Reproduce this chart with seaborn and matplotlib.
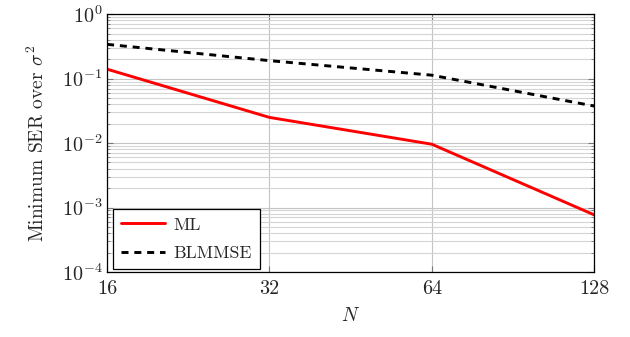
import matplotlib
matplotlib.use("Agg")
import matplotlib.pyplot as plt
import matplotlib.ticker as mticker
import numpy as np
import pandas as pd
import seaborn as sns

# values
n_values = [16, 32, 64, 128]
ser_ml = [0.14, 0.025, 0.0096, 0.00077]
ser_blmmse = [0.34, 0.19, 0.113, 0.0375]
method_names = ["ML", "BLMMSE"]

sns.set_style("ticks")
plt.rcParams["font.family"] = ["serif"]
plt.rcParams["font.serif"] = ["cmr10", "DejaVu Serif"]
plt.rcParams["mathtext.fontset"] = "cm"
plt.rcParams["axes.formatter.use_mathtext"] = True
plt.rcParams["axes.unicode_minus"] = False

df = pd.DataFrame({
    "N": n_values * 2,
    "SER": ser_ml + ser_blmmse,
    "method": [method_names[0]] * 4 + [method_names[1]] * 4,
})

fig = plt.figure(figsize=(6.3, 3.37), dpi=100)
ax = fig.add_axes([0.170, 0.193, 0.773, 0.765])

sns.lineplot(data=df, x="N", y="SER", hue="method", style="method",
             palette={"ML": "#ff0000", "BLMMSE": "black"},
             dashes={"ML": "", "BLMMSE": (2.4, 2.0)},
             linewidth=2.1, ax=ax)

ax.set_xscale("log", base=2)
ax.set_yscale("log")
ax.set_xlim(16, 128)
ax.set_ylim(1e-4, 1e0)
ax.xaxis.set_major_locator(mticker.FixedLocator(n_values))
ax.xaxis.set_major_formatter(mticker.FixedFormatter([str(v) for v in n_values]))
ax.xaxis.set_minor_locator(mticker.NullLocator())
ax.yaxis.set_major_locator(mticker.LogLocator(base=10, numticks=10))
ax.yaxis.set_minor_locator(mticker.LogLocator(base=10, subs=np.arange(2, 10), numticks=10))
ax.yaxis.set_minor_formatter(mticker.NullFormatter())

ax.grid(True, which="major", color="#c4c4c4", linewidth=0.8)
ax.grid(True, which="minor", axis="y", color="#d4d4d4", linewidth=0.8)
ax.tick_params(which="both", direction="in", top=True, right=True, labelsize=14.5)
ax.tick_params(axis="x", pad=6)
ax.tick_params(which="major", length=4, color="#777777")
ax.tick_params(which="minor", length=2.5, color="#777777")
for s in ax.spines.values():
    s.set_linewidth(0.9)
    s.set_color("black")

ax.set_xlabel("$N$", fontsize=14, labelpad=6)
ax.set_ylabel("Minimum SER over $\\sigma^2$", fontsize=14, labelpad=10)

leg = ax.legend(loc="lower left", bbox_to_anchor=(0.012, 0.01), borderaxespad=0,
                fontsize=12.8, fancybox=False, framealpha=1, edgecolor="black",
                handlelength=2.5, handletextpad=0.45, labelspacing=0.75,
                borderpad=0.45)
leg.get_frame().set_linewidth(0.9)

fig.savefig("out.png", dpi=100)
